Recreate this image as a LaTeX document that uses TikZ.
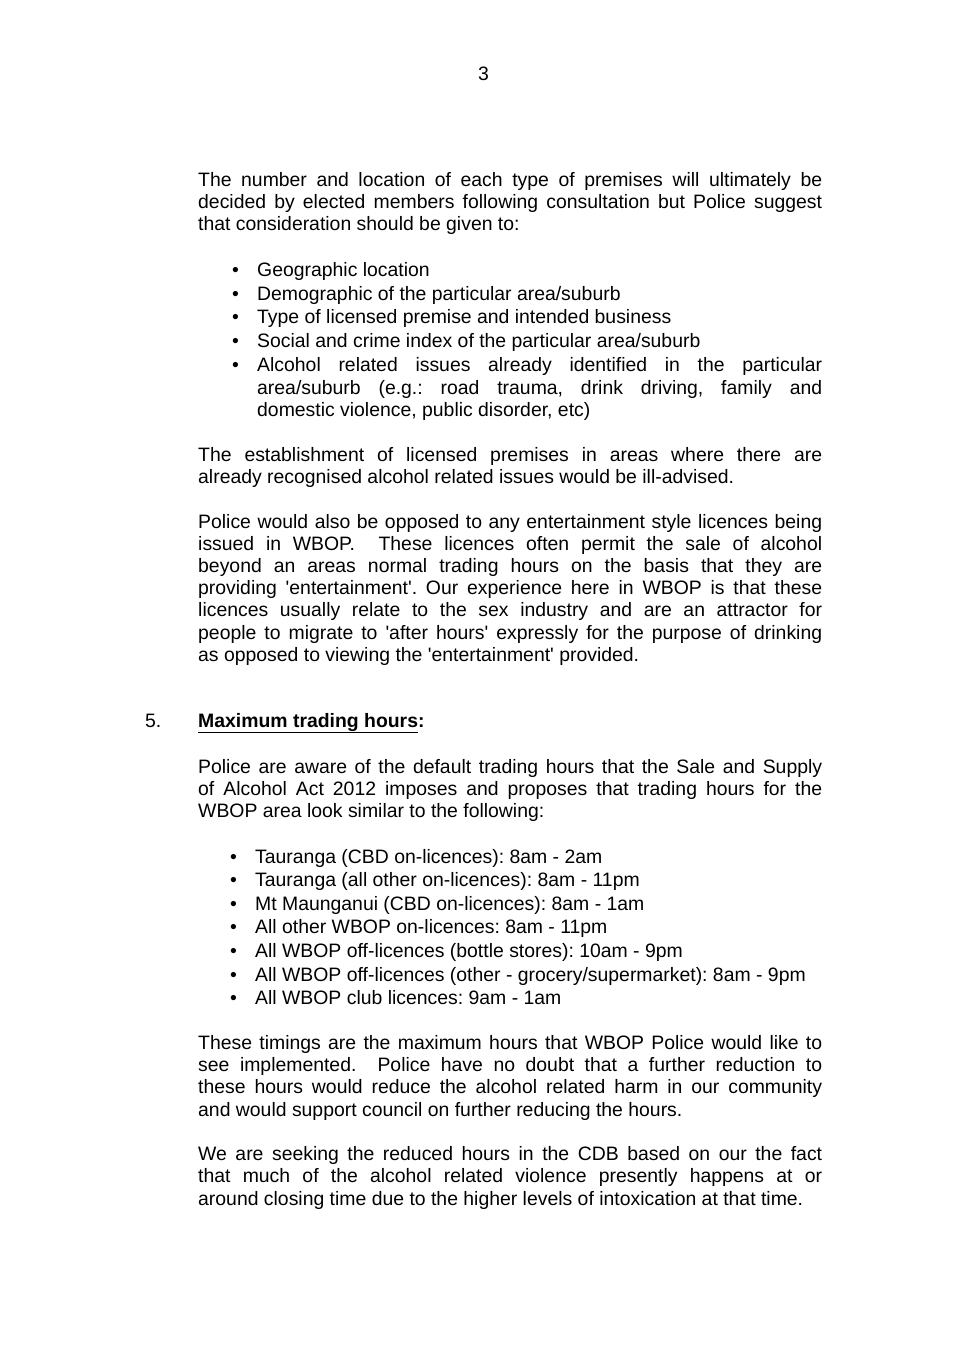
\documentclass[tikz,border=0pt]{standalone}
\usepackage{fontspec}
\setmainfont{Liberation Sans}
\frenchspacing
\begin{document}
\begin{tikzpicture}[x=1pt,y=-1pt,txt/.style={anchor=base west,inner sep=0pt,font=\fontsize{19.4pt}{22pt}\selectfont}]
\useasboundingbox (0,0) rectangle (968,1368);
\newcommand\Ln[3]{\node[txt] at (#1,#2+6) {#3};}
\newcommand\Jl[2]{\node[txt] at (198,#1+6) {\makebox[624pt][s]{#2}};}
\newcommand\Bj[2]{\node[txt] at (257,#1+6) {\makebox[565pt][s]{#2}};}
\newcommand\Bu[3]{\node[txt] at (#1-25,#2+6) {\textbullet}; \node[txt] at (#1,#2+6) {#3};}
\newcommand\q{\textquotesingle}
\node[txt] (pg) at (478,80) {3};
\Jl{180}{The number and location of each type of premises will ultimately be}
\Jl{202}{decided by elected members following consultation but Police suggest}
\Ln{198}{224}{that consideration should be given to:}
\Bu{257}{270}{Geographic location}
\Bu{257}{294}{Demographic of the particular area/suburb}
\Bu{257}{317}{Type of licensed premise and intended business}
\Bu{257}{341}{Social and crime index of the particular area/suburb}
\Bu{257}{365}{\makebox[565pt][s]{Alcohol related issues already identified in the particular}}
\Bj{388}{area/suburb (e.g.: road trauma, drink driving, family and}
\Ln{257}{410}{domestic violence, public disorder, etc)}
\Jl{455}{The establishment of licensed premises in areas where there are}
\Ln{198}{477}{already recognised alcohol related issues would be ill-advised.}
\Jl{522}{Police would also be opposed to any entertainment style licences being}
\Jl{544}{issued in WBOP.\ \ These licences often permit the sale of alcohol}
\Jl{566}{beyond an areas normal trading hours on the basis that they are}
\Jl{588}{providing \q entertainment\q. Our experience here in WBOP is that these}
\Jl{610}{licences usually relate to the sex industry and are an attractor for}
\Jl{633}{people to migrate to \q after hours\q\ expressly for the purpose of drinking}
\Ln{198}{655}{as opposed to viewing the \q entertainment\q\ provided.}
\Ln{145}{721}{5.}
\Ln{198}{721}{\textbf{\underline{Maximum trading hours}:}}
\Jl{767}{Police are aware of the default trading hours that the Sale and Supply}
\Jl{789}{of Alcohol Act 2012 imposes and proposes that trading hours for the}
\Ln{198}{811}{WBOP area look similar to the following:}
\Bu{255}{857}{Tauranga (CBD on-licences): 8am - 2am}
\Bu{255}{880}{Tauranga (all other on-licences): 8am - 11pm}
\Bu{255}{904}{Mt Maunganui (CBD on-licences): 8am - 1am}
\Bu{255}{927}{All other WBOP on-licences: 8am - 11pm}
\Bu{255}{951}{All WBOP off-licences (bottle stores): 10am - 9pm}
\Bu{255}{975}{All WBOP off-licences (other - grocery/supermarket): 8am - 9pm}
\Bu{255}{998}{All WBOP club licences: 9am - 1am}
\Jl{1043}{These timings are the maximum hours that WBOP Police would like to}
\Jl{1065}{see implemented.\ \ Police have no doubt that a further reduction to}
\Jl{1087}{these hours would reduce the alcohol related harm in our community}
\Ln{198}{1110}{and would support council on further reducing the hours.}
\Jl{1154}{We are seeking the reduced hours in the CDB based on our the fact}
\Jl{1176}{that much of the alcohol related violence presently happens at or}
\Ln{198}{1199}{around closing time due to the higher levels of intoxication at that time.}
\end{tikzpicture}
\end{document}
